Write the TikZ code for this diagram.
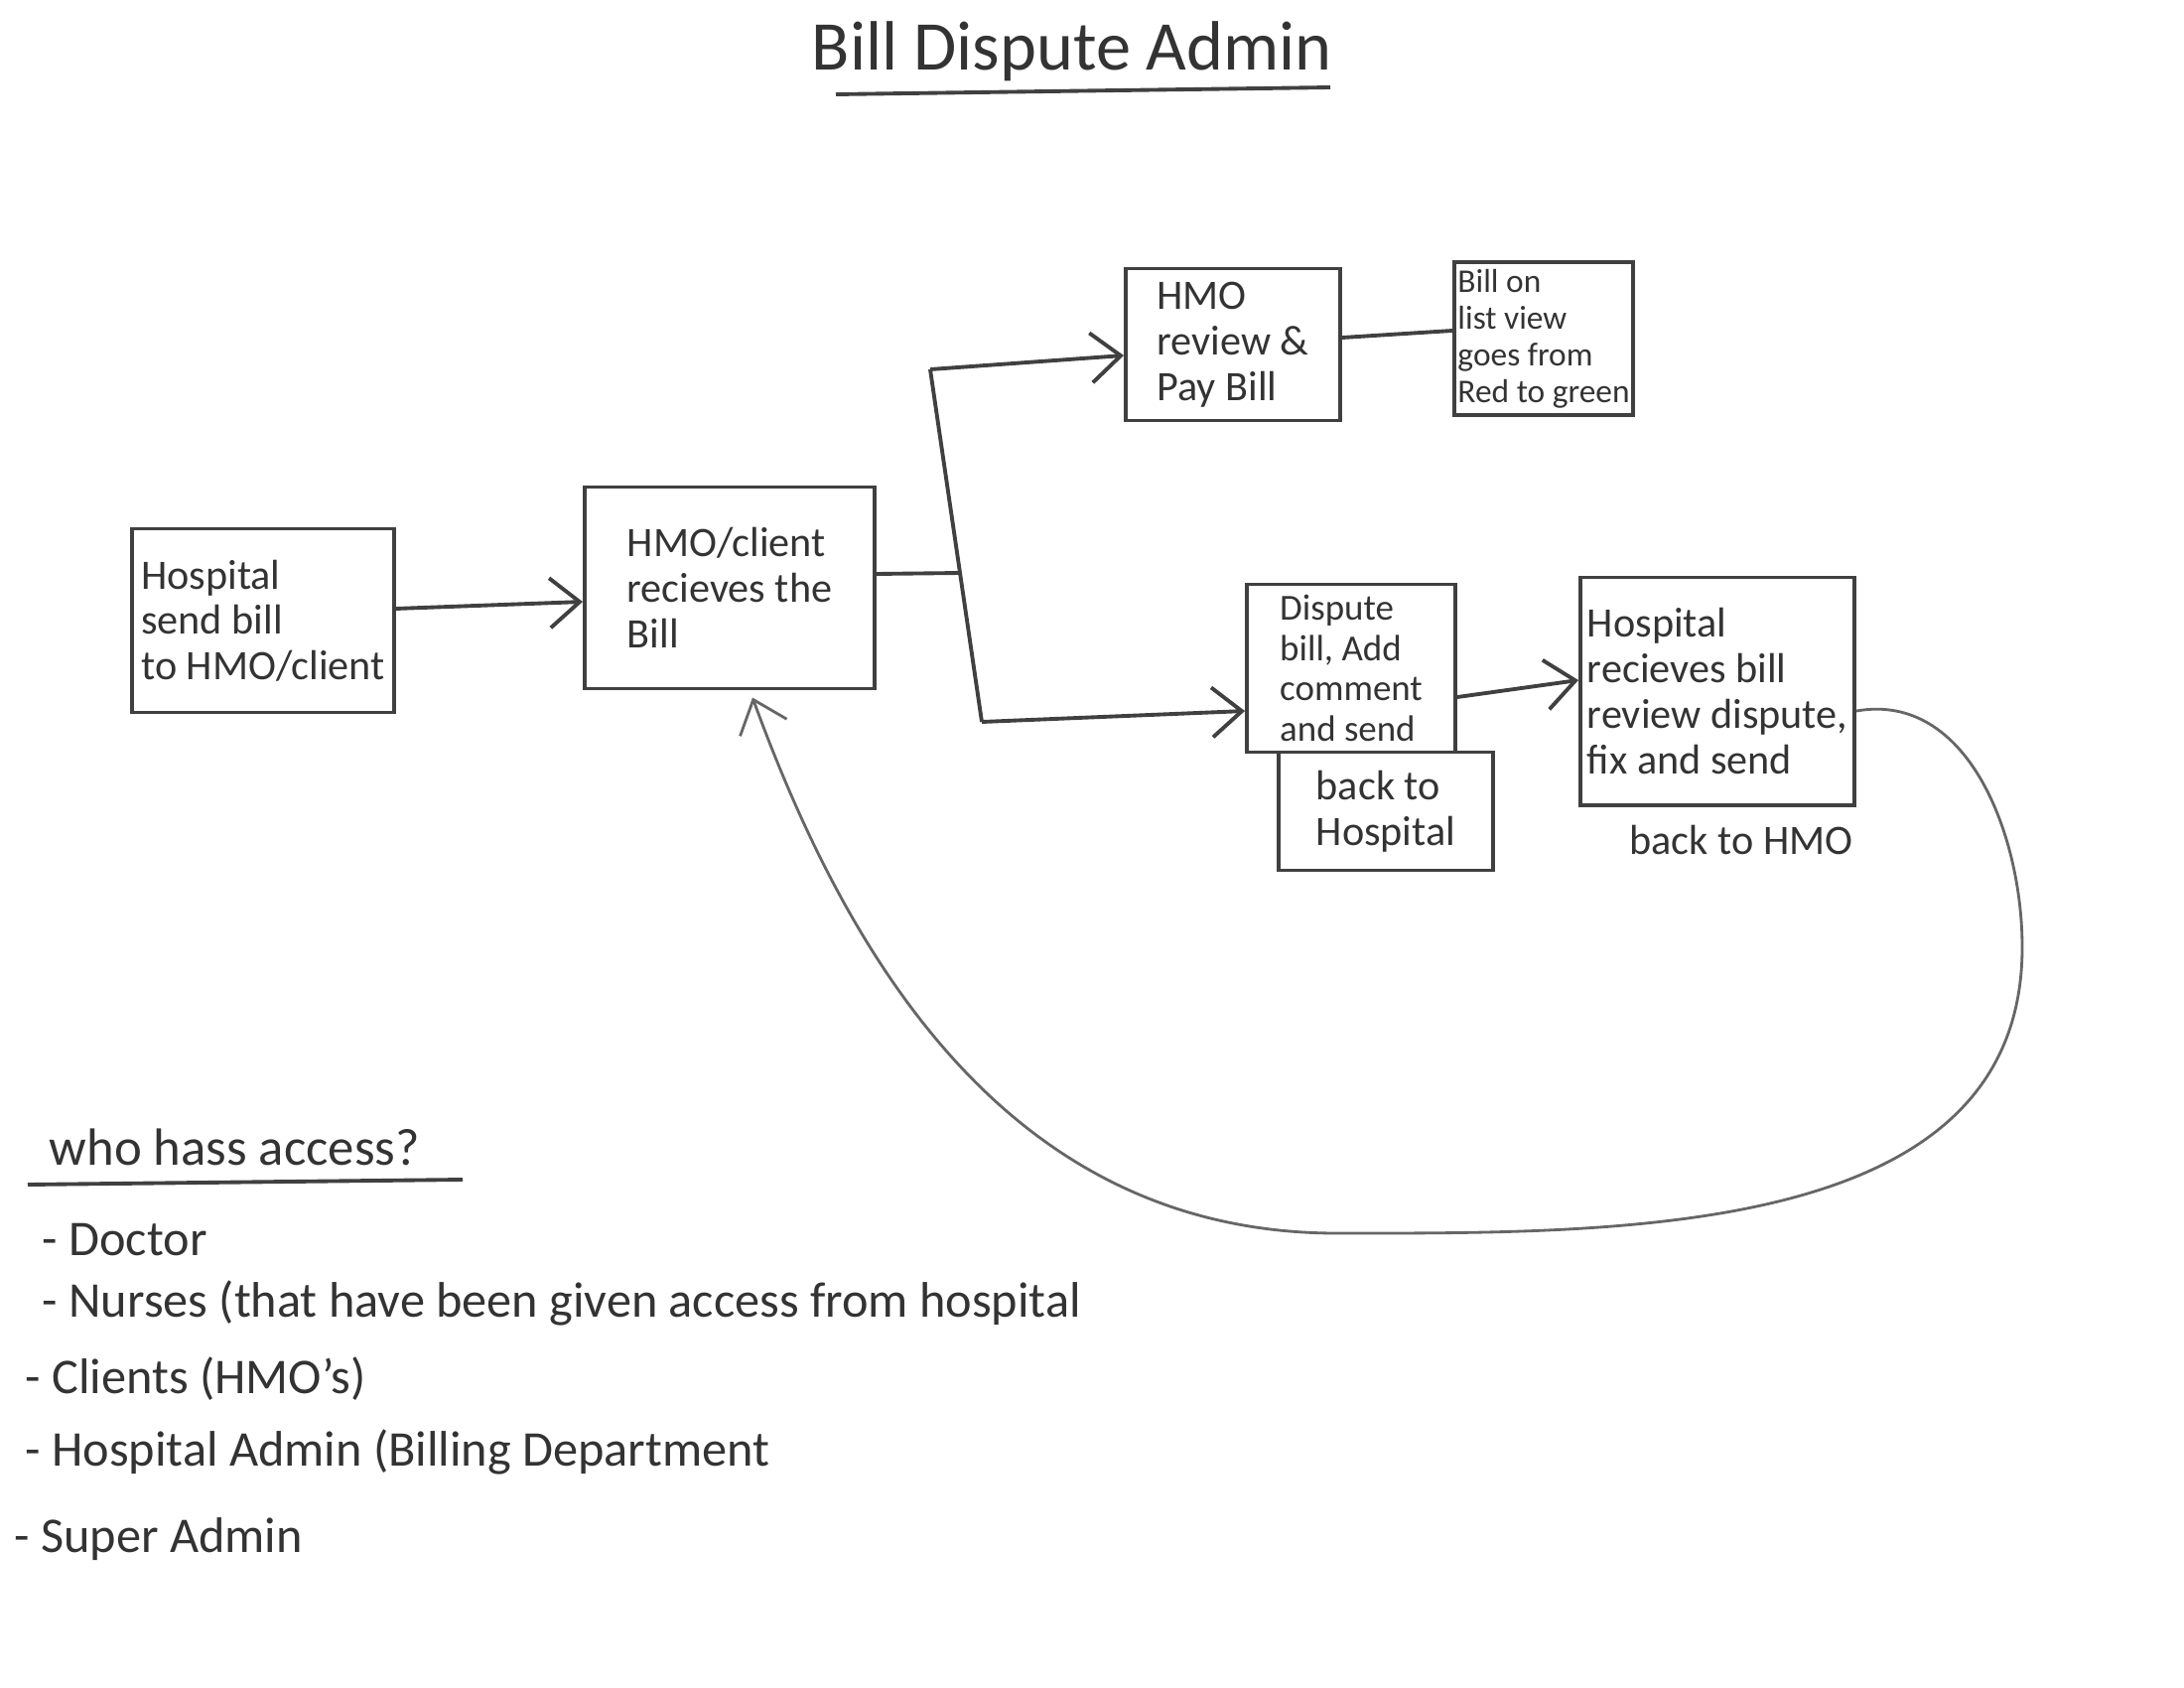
\documentclass[tikz,border=0pt]{standalone}
\usepackage{fontspec}
\setmainfont{Carlito}
\usetikzlibrary{arrows.meta}
\begin{document}
\begin{tikzpicture}[x=0.01cm,y=0.01cm,
  ink/.style={draw=black!75, line width=1.1pt},
  box/.style={ink, inner sep=2pt, align=left, text=black!80, font=\fontsize{12}{13}\selectfont},
  conn/.style={ink, -{Straight Barb[length=3mm,width=5mm]}},
  plain/.style={ink},
  loopline/.style={draw=black!60, line width=0.8pt, -{Straight Barb[length=3mm,width=5mm]}},
  lbl/.style={text=black!80, anchor=west, inner sep=0pt, font=\fontsize{14.3}{16}\selectfont}
]
\useasboundingbox (0,0) rectangle (2200,-1700);

% title
\node[text=black!80, font=\fontsize{20}{22}\selectfont] (title) at (1080,-52) {Bill Dispute Admin};
\draw[plain] (842,-95) -- (1340,-88);

% boxes
\node[box, minimum width=2.63cm, minimum height=1.85cm] (b1) at (265,-625) {Hospital\\ send bill\\ to HMO/client};
\node[box, minimum width=2.92cm, minimum height=2.03cm] (b2) at (735,-592) {HMO/client\\ recieves the\\ Bill};
\node[box, minimum width=2.16cm, minimum height=1.53cm] (b3) at (1242,-347) {HMO\\ review \&\\ Pay Bill};
\node[box, inner sep=1pt, minimum width=1.78cm, minimum height=1.54cm, font=\fontsize{9.5}{10.5}\selectfont] (b4) at (1555,-341) {Bill on\\ list view\\ goes from\\ Red to green};
\node[box, inner sep=1pt, minimum width=2.10cm, minimum height=1.69cm, font=\fontsize{10.5}{11.5}\selectfont] (d1) at (1361,-673) {Dispute\\ bill, Add\\ comment\\ and send};
\node[box, minimum width=2.16cm, minimum height=1.19cm] (d2) at (1396,-817) {back to\\ Hospital};
\node[box, minimum width=2.52cm, minimum height=2.29cm] (b6) at (1730,-696) {Hospital\\ recieves bill\\ review dispute,\\ fix and send};
\node[text=black!80, font=\fontsize{12}{13}\selectfont] (back) at (1754,-846) {back to HMO};

% trunk coordinates
\coordinate (T) at (937,-372);
\coordinate (B) at (989,-727);
\coordinate (J) at (967,-577);
\coordinate (r1) at (2037,-954);
\coordinate (r2) at (1347,-1242);

% connectors
\draw[conn] ([yshift=0.12cm]b1.east) -- ([yshift=-0.14cm]b2.west);
\draw[plain] ([yshift=0.14cm]b2.east) -- (J);
\draw[plain] (T) -- (B);
\draw[conn] (T) -- ([yshift=-0.11cm]b3.west);
\draw[conn] (B) -- ([yshift=-0.43cm]d1.west);
\draw[plain] ([yshift=0.07cm]b3.east) -- ([yshift=0.08cm]b4.west);
\draw[conn] ([yshift=-0.29cm]d1.east) -- ([yshift=0.11cm]b6.west);
\draw[loopline] ([yshift=-0.2cm]b6.east) to[out=10,in=90] (r1) to[out=-90,in=0] (r2) to[out=180,in=-70] ([xshift=0.23cm,yshift=-0.07cm]b2.south);

% access list
\node[lbl, font=\fontsize{15}{17}\selectfont] (who) at (49,-1155) {who hass access?};
\draw[plain] (28,-1193) -- (466,-1188);
\node[lbl] (i1) at (42,-1249) {- Doctor};
\node[lbl] (i2) at (42,-1312) {- Nurses (that have been given access from hospital};
\node[lbl] (i3) at (25,-1389) {- Clients (HMO's)};
\node[lbl] (i4) at (25,-1462) {- Hospital Admin (Billing Department};
\node[lbl] (i5) at (14,-1550) {- Super Admin};
\end{tikzpicture}
\end{document}
